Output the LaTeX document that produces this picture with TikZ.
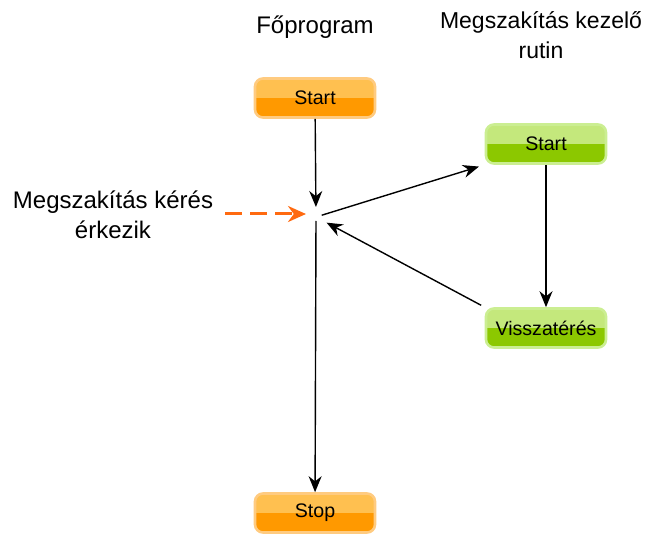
\documentclass[tikz,border=0pt]{standalone}
\usepackage{fontspec}
\setmainfont{Liberation Sans}
\usetikzlibrary{arrows.meta,positioning}

\definecolor{orangetop}{HTML}{FFC050}
\definecolor{orangebot}{HTML}{FF9900}
\definecolor{orangeline}{HTML}{FFCB80}
\definecolor{greentop}{HTML}{C4E87C}
\definecolor{greenbot}{HTML}{8CC800}
\definecolor{greenline}{HTML}{CBEE92}
\definecolor{irqorange}{HTML}{FF6A10}

\tikzset{
  btn/.style n args={3}{rounded corners=4pt, draw=#3, line width=1.3pt,
    minimum width=60pt, minimum height=19.5pt, font=\fontsize{9.8}{11}\selectfont,
    path picture={
      \fill[#1, sharp corners] (path picture bounding box.north west) rectangle (path picture bounding box.east);
      \fill[#2, sharp corners] (path picture bounding box.west) rectangle (path picture bounding box.south east);
    }},
  mainbox/.style={btn={orangetop}{orangebot}{orangeline}},
  subbox/.style={btn={greentop}{greenbot}{greenline}},
  title/.style={font=\fontsize{12}{15}\selectfont, align=center},
  flow/.style={-{Stealth[length=8pt,width=6.5pt]}, line width=0.7pt},
  irqarrow/.style={-{Stealth[length=9pt,width=8pt]}, draw=irqorange, line width=1.5pt,
    dash pattern=on 8.5pt off 4pt}
}

\begin{document}
\begin{tikzpicture}[x=0.5pt,y=-0.5pt]
\useasboundingbox (0,0) rectangle (648,534);

% titles
\node[title] (tmain) at (315,27) {Főprogram};
\node[title, font=\fontsize{11.5}{15}\selectfont] (tsub) at (541,35) {Megszakítás kezelő\\rutin};
\node[title] (treq) at (113,215) {Megszakítás kérés\\érkezik};

% boxes
\node[mainbox] (mstart) at (315,98) {Start};
\node[mainbox] (mstop) at (315,513) {Stop};
\node[subbox] (sstart) at (546,144) {Start};
\node[subbox] (sret) at (546,328) {Visszatérés};

\coordinate (irq) at (316,217);
\coordinate (reqfrom) at (225,214);

% connectors
\draw[flow, shorten >=5pt] (mstart) -- (irq);
\draw[flow, shorten <=3pt, shorten >=3pt] (irq) -- (sstart.south west);
\draw[flow] (sstart) -- (sret);
\draw[flow, shorten <=2pt, shorten >=6pt] (sret.north west) -- (irq);
\draw[flow, shorten <=2pt] (irq) -- (mstop);
\draw[irqarrow, shorten >=5pt] (reqfrom) -- (irq |- reqfrom);

\end{tikzpicture}
\end{document}
